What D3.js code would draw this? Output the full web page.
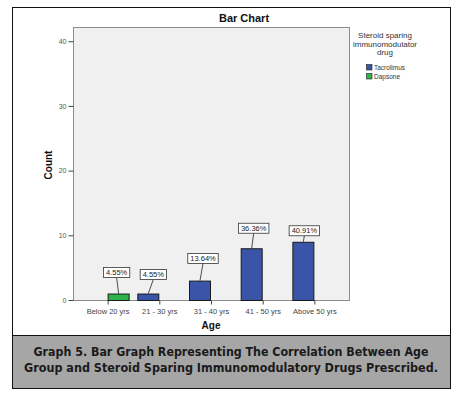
<!DOCTYPE html>
<html>
<head>
<meta charset="utf-8">
<script src="https://cdn.jsdelivr.net/npm/d3@7"></script>
<style>
  body { margin: 0; background: #fff; }
  svg { display: block; }
</style>
</head>
<body>
<svg id="chart" width="456" height="394"></svg>
<script>
// data
const ageGroups = ["Below 20 yrs", "21 - 30 yrs", "31 - 40 yrs", "41 - 50 yrs", "Above 50 yrs"];
const drugs = ["Tacrolimus", "Dapsone"];
const tacrolimusCounts = [0, 1, 3, 8, 9];
const dapsoneCounts = [1, 0, 0, 0, 0];
const yTicks = [0, 10, 20, 30, 40];
const captionLines = [
  "Graph 5. Bar Graph Representing The Correlation Between Age",
  "Group and Steroid Sparing Immunomodulatory Drugs Prescribed."
];

// label box placement (lift above bar top, horizontal nudge) - layout only
const labelLift = [16, 14, 17, 15, 6];
const labelNudge = [-2, 5, 3, 2, 1];

const colors = { Tacrolimus: "#3a54a8", Dapsone: "#2db34a" };

const svg = d3.select("#chart");
const font = "'Liberation Sans', Arial, sans-serif";

// outer frame
svg.append("rect")
  .attr("x", 12.5).attr("y", 7.5)
  .attr("width", 438).attr("height", 328)
  .attr("fill", "#fff").attr("stroke", "#111").attr("stroke-width", 1);

// caption box
svg.append("rect")
  .attr("x", 12.5).attr("y", 335.5)
  .attr("width", 438).attr("height", 53)
  .attr("fill", "#a6a6a6").attr("stroke", "#111").attr("stroke-width", 1);

const capWidths = [395, 414];
svg.selectAll("text.caption")
  .data(captionLines)
  .enter().append("text")
  .attr("class", "caption")
  .attr("x", 231)
  .attr("y", (d, i) => 356 + i * 16)
  .attr("text-anchor", "middle")
  .attr("font-family", "Verdana, 'DejaVu Sans Condensed', 'DejaVu Sans', sans-serif")
  .attr("font-weight", "bold")
  .attr("font-size", 11.5)
  .attr("fill", "#1a1a1a")
  .attr("textLength", (d, i) => capWidths[i])
  .attr("lengthAdjust", "spacingAndGlyphs")
  .text(d => d);

// plot area
const plot = { left: 73, top: 27, right: 349, bottom: 300 };

const x = d3.scalePoint()
  .domain(ageGroups)
  .range([plot.left, plot.right])
  .padding(0.67);

const xSub = d3.scaleBand()
  .domain(drugs)
  .range([-22, 22])
  .paddingInner(0);

const y = d3.scaleLinear()
  .domain([0, 42.2])
  .range([plot.bottom, plot.top]);

svg.append("rect")
  .attr("x", plot.left + 0.5).attr("y", plot.top + 0.5)
  .attr("width", plot.right - plot.left).attr("height", plot.bottom - plot.top)
  .attr("fill", "#f0f0f0").attr("stroke", "#8c8c8c").attr("stroke-width", 1);

// title
svg.append("text")
  .attr("x", 244).attr("y", 22)
  .attr("text-anchor", "middle")
  .attr("font-family", font).attr("font-weight", "bold").attr("font-size", 11)
  .attr("fill", "#111")
  .text("Bar Chart");

// y axis
const yAxis = svg.append("g")
  .attr("transform", `translate(${plot.left + 0.5},0)`)
  .call(d3.axisLeft(y).tickValues(yTicks).tickSize(5).tickPadding(2));
yAxis.select(".domain").remove();
yAxis.selectAll(".tick line").attr("stroke", "#444");
yAxis.selectAll(".tick text")
  .attr("font-family", font).attr("font-size", 7).attr("fill", "#555");

svg.append("text")
  .attr("transform", "translate(52,165) rotate(-90)")
  .attr("text-anchor", "middle")
  .attr("font-family", font).attr("font-weight", "bold").attr("font-size", 10)
  .attr("fill", "#111")
  .text("Count");

// x axis
const xAxis = svg.append("g")
  .attr("transform", `translate(0,${plot.bottom + 0.5})`)
  .call(d3.axisBottom(x).tickSize(4).tickPadding(4));
xAxis.select(".domain").remove();
xAxis.selectAll(".tick line").attr("stroke", "#444");
xAxis.selectAll(".tick text")
  .attr("font-family", font).attr("font-size", 7.5).attr("fill", "#444");

svg.append("text")
  .attr("x", 211).attr("y", 329)
  .attr("text-anchor", "middle")
  .attr("font-family", font).attr("font-weight", "bold").attr("font-size", 10)
  .attr("fill", "#111")
  .text("Age");

// bars
const total = d3.sum(tacrolimusCounts) + d3.sum(dapsoneCounts);
const bars = [];
ageGroups.forEach((g, i) => {
  [["Tacrolimus", tacrolimusCounts[i]], ["Dapsone", dapsoneCounts[i]]].forEach(([drug, v]) => {
    if (v > 0) bars.push({ group: g, idx: i, drug: drug, value: v });
  });
});

svg.selectAll("rect.bar")
  .data(bars)
  .enter().append("rect")
  .attr("class", "bar")
  .attr("x", d => x(d.group) + xSub(d.drug) + 0.5)
  .attr("y", d => y(d.value) + 0.5)
  .attr("width", xSub.bandwidth() - 1)
  .attr("height", d => y(0) - y(d.value))
  .attr("fill", d => colors[d.drug])
  .attr("stroke", "#1a1a1a").attr("stroke-width", 1);

// percentage labels with leader lines
const lab = svg.selectAll("g.lab")
  .data(bars)
  .enter().append("g")
  .attr("class", "lab");

lab.each(function(d) {
  const g = d3.select(this);
  const bx = x(d.group) + xSub(d.drug) + xSub.bandwidth() / 2;
  const top = y(d.value);
  const boxBottom = top - labelLift[d.idx];
  const cx = bx + labelNudge[d.idx];
  const txt = (d.value / total * 100).toFixed(2) + "%";

  g.append("line")
    .attr("x1", bx).attr("y1", top)
    .attr("x2", cx).attr("y2", boxBottom)
    .attr("stroke", "#222").attr("stroke-width", 0.8);

  const t = g.append("text")
    .attr("x", cx).attr("y", boxBottom - 2.5)
    .attr("text-anchor", "middle")
    .attr("font-family", font).attr("font-size", 7.5)
    .attr("fill", "#222")
    .text(txt);
  const w = t.node().getComputedTextLength() + 5;
  g.insert("rect", "text")
    .attr("x", cx - w / 2).attr("y", boxBottom - 10)
    .attr("width", w).attr("height", 10)
    .attr("fill", "#fff").attr("stroke", "#333").attr("stroke-width", 0.8);
});

// legend
const legTitle = ["Steroid sparing", "immunomodulator", "drug"];
svg.selectAll("text.legtitle")
  .data(legTitle)
  .enter().append("text")
  .attr("class", "legtitle")
  .attr("x", 385)
  .attr("y", (d, i) => 38 + i * 8.5)
  .attr("text-anchor", "middle")
  .attr("font-family", font).attr("font-size", 8)
  .attr("fill", "#333")
  .text(d => d);

const leg = svg.selectAll("g.leg")
  .data(drugs)
  .enter().append("g")
  .attr("class", "leg")
  .attr("transform", (d, i) => `translate(366,${64 + i * 9})`);
leg.append("rect")
  .attr("x", 0.5).attr("y", 0.5)
  .attr("width", 5.5).attr("height", 5.5)
  .attr("fill", d => colors[d])
  .attr("stroke", "#222").attr("stroke-width", 0.6);
leg.append("text")
  .attr("x", 8).attr("y", 6)
  .attr("font-family", font).attr("font-size", 6.5)
  .attr("fill", "#333")
  .text(d => d);
</script>
</body>
</html>
